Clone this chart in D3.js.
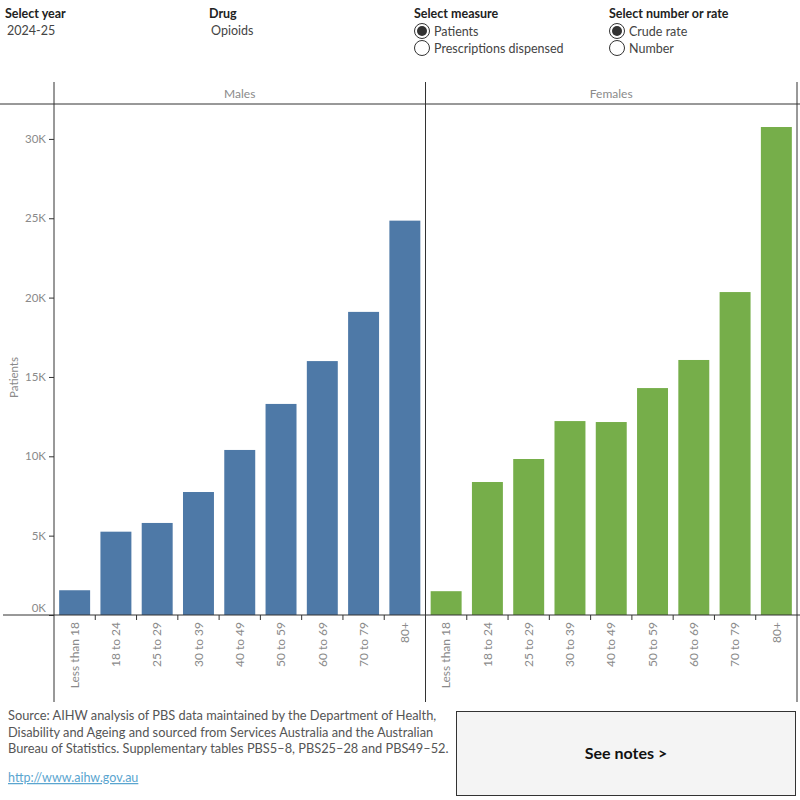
<!DOCTYPE html>
<html><head><meta charset="utf-8">
<script src="https://cdn.jsdelivr.net/npm/d3@7"></script>
<style>
body{margin:0;background:#fff;}
text{font-family:Lato,"Noto Sans",sans-serif;}
</style></head>
<body><svg id="c" width="800" height="800"></svg>
<script>
const ageGroups = ["Less than 18","18 to 24","25 to 29","30 to 39","40 to 49","50 to 59","60 to 69","70 to 79","80+"];
const panels = ["Males","Females"];
const malesValues = [1560, 5250, 5800, 7750, 10400, 13300, 16000, 19100, 24850];
const femalesValues = [1500, 8380, 9830, 12220, 12160, 14300, 16070, 20350, 30750];
const yTicks = [0, 5000, 10000, 15000, 20000, 25000, 30000];
const panelColors = ["#4e79a7", "#76ae4a"];

const svg = d3.select("#c");
const grey = "#8a8a8a";
const line = "#333";

// header controls
const hdr = svg.append("g");
hdr.append("text").attr("x",5).attr("y",18).attr("font-size",12.5).attr("font-weight","bold").attr("fill","#222").text("Select year");
hdr.append("text").attr("x",7).attr("y",35).attr("font-size",12.5).attr("fill","#444").text("2024-25");
hdr.append("text").attr("x",209).attr("y",18).attr("font-size",12.5).attr("font-weight","bold").attr("fill","#222").text("Drug");
hdr.append("text").attr("x",211).attr("y",35).attr("font-size",12.5).attr("fill","#444").text("Opioids");
function radioGroup(x, title, opts){
  hdr.append("text").attr("x",x).attr("y",18).attr("font-size",12.5).attr("font-weight","bold").attr("fill","#222").text(title);
  opts.forEach((o,i)=>{
    const cy = 31 + i*17;
    hdr.append("circle").attr("cx",x+8).attr("cy",cy).attr("r",7.5).attr("fill","#fff").attr("stroke","#333").attr("stroke-width",1);
    if(i===0) hdr.append("circle").attr("cx",x+8).attr("cy",cy).attr("r",5).attr("fill","#333");
    hdr.append("text").attr("x",x+20).attr("y",cy+4.5).attr("font-size",12.5).attr("fill","#444").text(o);
  });
}
radioGroup(414, "Select measure", ["Patients","Prescriptions dispensed"]);
radioGroup(609, "Select number or rate", ["Crude rate","Number"]);

// chart
const x0 = 54, panelW = 371.5, baseY = 615, topY = 104;
const y = d3.scaleLinear().domain([0, 32200]).range([baseY, topY]);
const panelScale = d3.scaleBand().domain(panels).range([x0, x0 + 2*panelW]);
const dataByPanel = [malesValues, femalesValues];

// frame lines
svg.append("line").attr("x1",0).attr("x2",800).attr("y1",104).attr("y2",104).attr("stroke",line);
[x0, x0+panelW, x0+2*panelW].forEach(xx=>{
  svg.append("line").attr("x1",xx).attr("x2",xx).attr("y1",82).attr("y2",702).attr("stroke",line);
});

// y axis
const yAxis = d3.axisLeft(y).tickValues(yTicks).tickFormat(d=>(d/1000)+"K").tickSize(5).tickPadding(3);
const ya = svg.append("g").attr("transform",`translate(${x0},0)`).call(yAxis);
ya.select(".domain").remove();
ya.selectAll(".tick line").attr("stroke",line);
ya.selectAll(".tick text").attr("fill",grey).attr("font-size",11.5).attr("font-family","Lato,'Noto Sans',sans-serif");
ya.selectAll(".tick").filter(d=>d===0).select("text").attr("dy","-0.3em");
svg.append("text").attr("transform",`translate(18,${(baseY+topY)/2+18}) rotate(-90)`).attr("text-anchor","middle")
  .attr("font-size",11.5).attr("fill",grey).text("Patients");

panels.forEach((p,pi)=>{
  const px = panelScale(p);
  const xb = d3.scaleBand().domain(ageGroups).range([px, px+panelW]).paddingInner(0.25).paddingOuter(0.125);
  svg.append("text").attr("x",px+panelW/2).attr("y",98).attr("text-anchor","middle").attr("font-size",12).attr("fill",grey).text(p);
  const g = svg.append("g");
  g.selectAll("rect").data(ageGroups).join("rect")
    .attr("x",d=>xb(d)).attr("width",xb.bandwidth())
    .attr("y",(d,i)=>y(dataByPanel[pi][i])).attr("height",(d,i)=>baseY - y(dataByPanel[pi][i]))
    .attr("fill",panelColors[pi]);
  // x axis
  const xa = svg.append("g").attr("transform",`translate(0,${baseY})`).call(d3.axisBottom(xb).tickSize(0).tickPadding(0));
  xa.select(".domain").remove();
  xa.selectAll(".tick text").attr("transform","rotate(-90)").attr("text-anchor","end")
    .attr("x",-7).attr("y",0).attr("dy","0.35em").attr("fill",grey).attr("font-size",12)
    .attr("font-family","Lato,'Noto Sans',sans-serif");
  // separators between bands
  ageGroups.slice(1).forEach(a=>{
    const sx = xb(a) - xb.step()*xb.paddingInner()/2;
    svg.append("line").attr("x1",sx).attr("x2",sx).attr("y1",baseY).attr("y2",baseY+5).attr("stroke",line);
  });
});
svg.append("line").attr("x1",3).attr("x2",800).attr("y1",baseY).attr("y2",baseY).attr("stroke",line);

// footer
const src = ["Source: AIHW analysis of PBS data maintained by the Department of Health,",
 "Disability and Ageing and sourced from Services Australia and the Australian",
 "Bureau of Statistics. Supplementary tables PBS5–8, PBS25–28 and PBS49–52."];
src.forEach((t,i)=>svg.append("text").attr("x",8).attr("y",720+i*16.5).attr("font-size",12.8).attr("fill","#555").text(t));
svg.append("text").attr("x",8).attr("y",782).attr("font-size",12.5).attr("fill","#5aa5cf").attr("text-decoration","underline").text("http://www.aihw.gov.au");
svg.append("rect").attr("x",456.5).attr("y",711.5).attr("width",339).attr("height",84).attr("fill","#f4f4f4").attr("stroke","#333");
svg.append("text").attr("x",626).attr("y",759).attr("text-anchor","middle").attr("font-size",16).attr("font-weight","bold").attr("fill","#111").text("See notes >");
</script></body></html>
